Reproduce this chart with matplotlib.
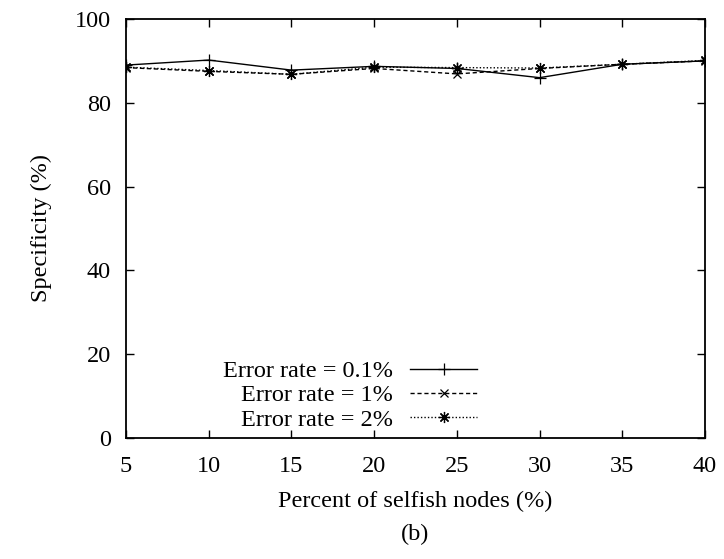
import matplotlib
matplotlib.use("Agg")
import matplotlib.pyplot as plt

x_vals = [5, 10, 15, 20, 25, 30, 35, 40]
err_01 = [89.0, 90.2, 87.8, 88.7, 88.2, 86.0, 89.2, 90.0]
err_1 = [88.4, 87.5, 86.8, 88.2, 86.9, 88.2, 89.2, 90.0]
err_2 = [88.5, 87.7, 86.8, 88.5, 88.4, 88.3, 89.2, 90.1]
labels = ["Error rate = 0.1%", "Error rate = 1%", "Error rate = 2%"]
xticks = [5, 10, 15, 20, 25, 30, 35, 40]
yticks = [0, 20, 40, 60, 80, 100]

plt.rcParams['font.family'] = ['Liberation Serif', 'DejaVu Serif']
plt.rcParams['mathtext.fontset'] = 'stix'
FS = 17.5

fig = plt.figure(figsize=(7.24, 5.59), dpi=100)
W, H = 724, 559
l, r, t, b = 126, 705, 19, 438
ax = fig.add_axes([l / W, 1 - b / H, (r - l) / W, (b - t) / H])

ax.plot(x_vals, err_01, color='black', lw=1.0, ls='-', marker='+', ms=8, mew=0.9, label=labels[0])
ax.plot(x_vals, err_1, color='black', lw=1.0, ls=(0, (3, 2)), marker='x', ms=6, mew=0.9, label=labels[1])
ax.plot(x_vals, err_2, color='black', lw=1.0, ls=(0, (1, 1.5)), marker=(8, 2, 0), ms=8, mew=0.9, label=labels[2])

ax.set_xlim(5, 40)
ax.set_ylim(0, 100)
ax.set_xticks(xticks)
ax.set_yticks(yticks)
ax.tick_params(direction='in', top=True, right=True, length=6, width=1, labelsize=FS)
ax.tick_params(axis='x', pad=13)
ax.tick_params(axis='y', pad=11)
for s in ax.spines.values():
    s.set_linewidth(1.3)

ax.set_xlabel("Percent of selfish nodes (%)", fontsize=FS, labelpad=10)
ax.set_ylabel("Specificity (%)", fontsize=FS, labelpad=16)

leg = ax.legend(loc='upper right', bbox_to_anchor=((477 - l) / (r - l), (b - 360) / (b - t)),
                frameon=False, markerfirst=False, alignment='right', fontsize=FS,
                handlelength=2.75, handletextpad=0.7, labelspacing=0.1, borderpad=0,
                borderaxespad=0)

fig.text((l + r) / 2 / W, 1 - 534 / H, "(b)", ha='center', va='center', fontsize=FS)

fig.savefig("out.png", dpi=100)
